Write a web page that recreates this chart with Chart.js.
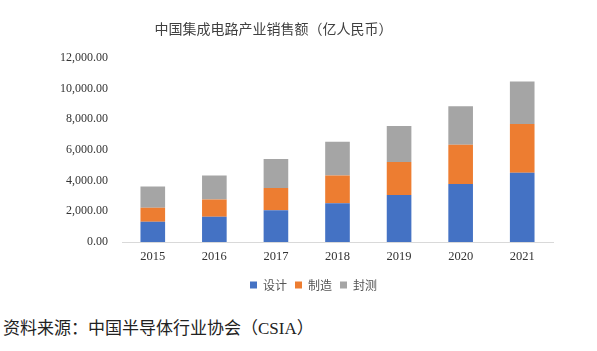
<!DOCTYPE html>
<html>
<head>
<meta charset="utf-8">
<script src="https://cdn.jsdelivr.net/npm/chart.js@4"></script>
<style>
  body { margin: 0; background: #fff; }
  #wrap { position: relative; width: 597px; height: 351px; }
  #src { position: absolute; left: 3px; top: 314px; font: 17px "Noto Sans CJK SC", serif; color: #222; }
  #src span { font-family: "Liberation Serif", serif; font-size: 17px; }
</style>
</head>
<body>
<div id="wrap">
  <canvas id="chart" width="597" height="301"></canvas>
  <div id="src">资料来源：中国半导体行业协会（<span>CSIA</span>）</div>
</div>
<script>
const years = ["2015", "2016", "2017", "2018", "2019", "2020", "2021"];
const design = [1325, 1644, 2073, 2519, 3064, 3778, 4519];
const manufacture = [901, 1127, 1448, 1818, 2149, 2560, 3176];
const packaging = [1384, 1564, 1889, 2196, 2350, 2510, 2763];

const numFont = { family: "'Liberation Serif', serif", size: 12.5 };
const cjkFont = { family: "'Noto Sans CJK SC', sans-serif", size: 12 };

// nudge title left and legend right, like the source image
const shiftBoxes = {
  id: "shiftBoxes",
  afterLayout(chart) {
    chart.titleBlock.left -= 60;
    chart.legend.left += 10;
    chart.legend.right += 10;
  },
};

const ctx = document.getElementById("chart").getContext("2d");
new Chart(ctx, {
  type: "bar",
  data: {
    labels: years,
    datasets: [
      { label: "设计", data: design, backgroundColor: "#4472C4" },
      { label: "制造", data: manufacture, backgroundColor: "#ED7D31" },
      { label: "封测", data: packaging, backgroundColor: "#A5A5A5" },
    ],
  },
  options: {
    responsive: false,
    animation: false,
    layout: { padding: { left: 54, right: 44, top: 8, bottom: 0 } },
    datasets: { bar: { barPercentage: 0.4, categoryPercentage: 1 } },
    plugins: {
      title: {
        display: true,
        text: "中国集成电路产业销售额（亿人民币）",
        color: "#404040",
        font: { family: "'Noto Sans CJK SC', sans-serif", size: 14, weight: "normal" },
        padding: { top: 12, bottom: 21 },
      },
      legend: {
        position: "bottom",
        labels: { boxWidth: 7, boxHeight: 7, padding: 8, color: "#555", font: cjkFont },
      },
      tooltip: { enabled: false },
    },
    scales: {
      x: {
        stacked: true,
        grid: { display: false, drawTicks: false },
        border: { color: "#d9d9d9" },
        ticks: { color: "#333", font: numFont, padding: 7 },
      },
      y: {
        stacked: true,
        min: 0,
        max: 12000,
        grid: { display: false },
        border: { display: false },
        ticks: {
          stepSize: 2000,
          color: "#333",
          font: { family: "'Liberation Serif', serif", size: 12 },
          padding: 6,
          callback: (v) => v.toLocaleString("en-US", { minimumFractionDigits: 2, maximumFractionDigits: 2 }),
        },
      },
    },
  },
  plugins: [shiftBoxes],
});
</script>
</body>
</html>
